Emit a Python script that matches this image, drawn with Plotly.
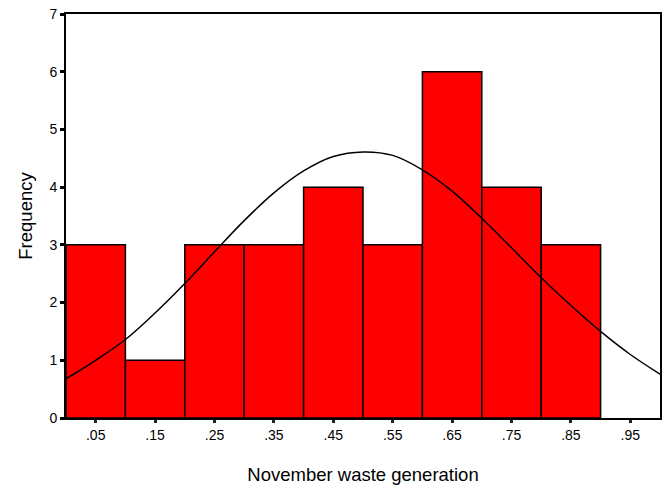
import plotly.graph_objects as go

# Histogram bins (centers) and frequencies
bin_centers = [0.05, 0.15, 0.25, 0.35, 0.45, 0.55, 0.65, 0.75, 0.85, 0.95]
frequencies = [3, 1, 3, 3, 4, 3, 6, 4, 3, 0]
tick_labels = [".05", ".15", ".25", ".35", ".45", ".55", ".65", ".75", ".85", ".95"]

# Normal curve overlay
curve_x = [0.0, 0.05, 0.10, 0.15, 0.20, 0.25, 0.30, 0.35, 0.40, 0.45, 0.50,
           0.55, 0.60, 0.65, 0.70, 0.75, 0.80, 0.85, 0.90, 0.95, 1.0]
curve_y = [0.68, 1.00, 1.36, 1.82, 2.33, 2.88, 3.42, 3.90, 4.28, 4.53, 4.61,
           4.55, 4.30, 3.93, 3.46, 2.95, 2.43, 1.95, 1.50, 1.10, 0.76]

outline_widths = [1.5 if f > 0 else 0 for f in frequencies]

fig = go.Figure()
fig.add_trace(go.Bar(
    x=bin_centers, y=frequencies, width=0.1,
    marker=dict(color="#FF0000", line=dict(color="black", width=outline_widths)),
    hoverinfo="skip",
))
fig.add_trace(go.Scatter(
    x=curve_x, y=curve_y, mode="lines",
    line=dict(color="black", width=1.5, shape="spline"),
    hoverinfo="skip",
))

font_family = "Liberation Sans, Arial, sans-serif"
fig.update_layout(
    width=667, height=491,
    margin=dict(l=66, r=7, t=14, b=73),
    paper_bgcolor="white", plot_bgcolor="white",
    showlegend=False,
    bargap=0,
    font=dict(family=font_family, color="black", size=13),
    xaxis=dict(
        range=[0, 1], automargin=False,
        tickmode="array", tickvals=bin_centers, ticktext=tick_labels,
        ticks="outside", ticklen=3, tickwidth=3, tickcolor="#222",
        showline=True, linecolor="black", linewidth=2, mirror=True,
        showgrid=False, zeroline=False,
        tickfont=dict(size=14),
        title=dict(text="November waste generation", font=dict(size=18.5), standoff=26),
    ),
    yaxis=dict(
        range=[0, 7], dtick=1, automargin=False,
        ticks="outside", ticklen=4, tickwidth=3, tickcolor="black",
        showline=True, linecolor="black", linewidth=2, mirror=True,
        showgrid=False, zeroline=False,
        tickfont=dict(size=14),
        title=dict(text="Frequency", font=dict(size=18.5), standoff=12),
    ),
)

fig.write_html(
    "out.html",
    config={"displayModeBar": False, "staticPlot": True},
    post_script="document.body.style.margin='0';document.body.style.overflow='hidden';",
)
